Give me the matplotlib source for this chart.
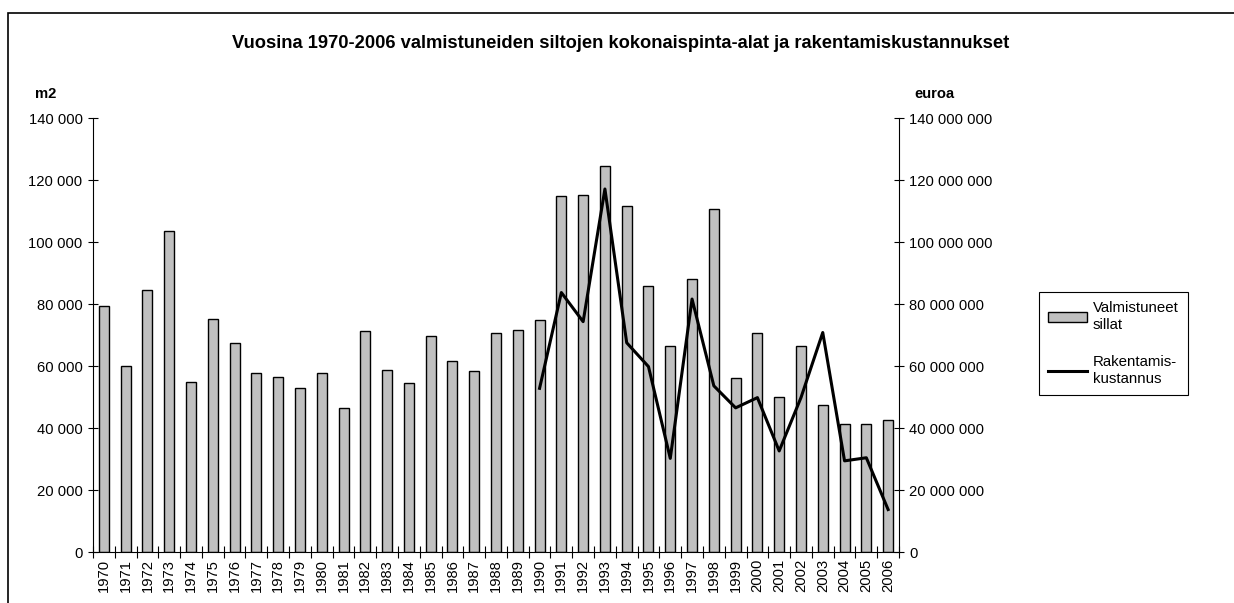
import matplotlib.pyplot as plt
from matplotlib.patches import Rectangle
from matplotlib.ticker import FuncFormatter, FixedLocator
import numpy as np

years = list(range(1970, 2007))
area_m2 = [79400, 60100, 84400, 103700, 55000, 75300, 67500, 57800, 56500, 52900,
           57800, 46400, 71200, 58800, 54600, 69800, 61500, 58400, 70700, 71700,
           74800, 114800, 115200, 124400, 111600, 85900, 66500, 88100, 110700, 56100,
           70700, 50100, 66500, 47400, 41300, 41300, 42600]
cost_years = list(range(1990, 2007))
cost_eur = [52.8e6, 83.7e6, 74.3e6, 117.1e6, 67.5e6, 59.8e6, 30.2e6, 81.6e6, 53.6e6,
            46.5e6, 49.8e6, 32.6e6, 49.8e6, 70.8e6, 29.4e6, 30.4e6, 13.7e6]

plt.rcParams['font.family'] = ['Liberation Sans', 'DejaVu Sans']
plt.rcParams['font.size'] = 10.6

fig = plt.figure(figsize=(12.34, 6.03), dpi=100)
W, H = 1234, 603
# outer chart frame
fig.patches.append(Rectangle((8 / W, -0.1), 1.1, 1 - 13 / H + 0.1, transform=fig.transFigure,
                             fill=False, edgecolor='black', linewidth=1.2))

ax = fig.add_axes([93 / W, 1 - 552 / H, (899 - 93) / W, (552 - 118) / H])
x = np.arange(len(years))
bars = ax.bar(x, area_m2, width=0.46, color='#c0c0c0', edgecolor='black', linewidth=1,
              label='Valmistuneet\nsillat')
ax.set_xlim(-0.5, len(years) - 0.5)
ax.set_ylim(0, 140000)
ax.set_yticks(range(0, 140001, 20000))
fmt = FuncFormatter(lambda v, p: f'{int(v):,}'.replace(',', ' '))
ax.yaxis.set_major_formatter(fmt)
ax.set_xticks(x)
ax.set_xticklabels([str(y) for y in years], rotation=90)
ax.tick_params(axis='x', length=0, pad=5)
ax.xaxis.set_minor_locator(FixedLocator(np.arange(-0.5, len(years), 1.0)))
ax.tick_params(axis='x', which='minor', direction='inout', length=8, width=0.8)
ax.tick_params(axis='y', direction='inout', length=7, width=0.8, pad=4)
for s in ['top', 'right']:
    ax.spines[s].set_visible(False)
ax.spines['left'].set_linewidth(0.8)
ax.spines['bottom'].set_linewidth(0.8)

ax2 = ax.twinx()
cx = [years.index(y) for y in cost_years]
line, = ax2.plot(cx, cost_eur, color='black', linewidth=2.2, label='Rakentamis-\nkustannus')
ax2.set_ylim(0, 140e6)
ax2.set_yticks(np.arange(0, 140e6 + 1, 20e6))
ax2.yaxis.set_major_formatter(fmt)
ax2.tick_params(axis='y', direction='inout', length=7, width=0.8, pad=4)
for s in ['top', 'left', 'bottom']:
    ax2.spines[s].set_visible(False)
ax2.spines['right'].set_linewidth(0.8)

fig.text(621 / W, 1 - 44 / H, 'Vuosina 1970-2006 valmistuneiden siltojen kokonaispinta-alat ja rakentamiskustannukset',
         ha='center', va='center', fontsize=13.2, fontweight='bold')
fig.text(35 / W, 1 - 94 / H, 'm2', ha='left', va='center', fontsize=10.6, fontweight='bold')
fig.text(914 / W, 1 - 94 / H, 'euroa', ha='left', va='center', fontsize=10.6, fontweight='bold')

leg = fig.legend(handles=[bars, line], loc='upper left',
                 bbox_to_anchor=(1039 / W, 1 - 292 / H), borderaxespad=0, fancybox=False,
                 framealpha=1, edgecolor='black', handlelength=2.6, labelspacing=1.5,
                 borderpad=0.6, handletextpad=0.4, fontsize=10.8)
leg.get_frame().set_linewidth(0.8)
for t in leg.get_texts():
    t.set_linespacing(1.3)

fig.savefig('out.png', dpi=100)
